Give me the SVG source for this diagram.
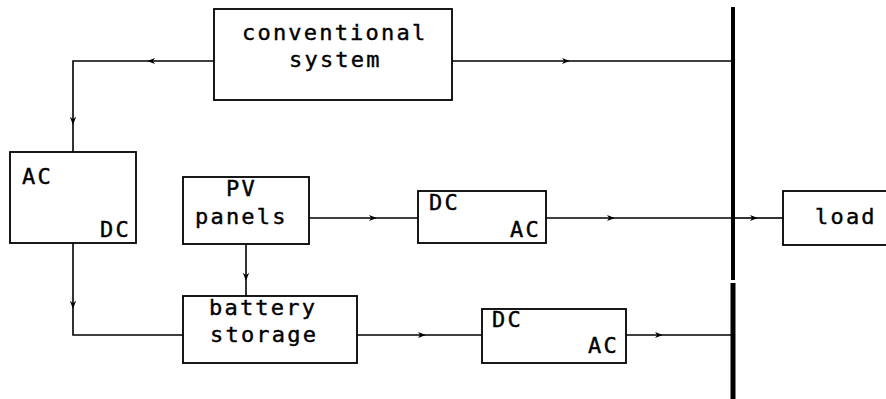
<svg xmlns="http://www.w3.org/2000/svg" width="886" height="399" viewBox="0 0 886 399">
<style>
.box{fill:#fff;stroke:#000;stroke-width:1.8}
.t{font-family:"DejaVu Sans Mono","Liberation Mono",monospace;font-size:22px;letter-spacing:2.2px;fill:#000;stroke:#000;stroke-width:0.4}
.c{fill:none;stroke:#000;stroke-width:1.6}
.bus{stroke:#000}
</style>
<defs>
<marker id="ah" viewBox="0 0 10 10" refX="9" refY="5" markerWidth="8" markerHeight="8" markerUnits="userSpaceOnUse" orient="auto">
<path d="M0,1 L10,5 L0,9 L3,5 Z" fill="#000"/>
</marker>
</defs>
<rect width="886" height="399" fill="#fff"/>
<g id="connectors">
<path class="c" d="M214 61 L148 61" marker-end="url(#ah)"/>
<path class="c" d="M148 61 L73 61 L73 124" marker-end="url(#ah)"/>
<path class="c" d="M73 124 L73 152"/>
<path class="c" d="M452 61 L569 61" marker-end="url(#ah)"/>
<path class="c" d="M569 61 L733 61"/>
<path class="c" d="M309 218 L376 218" marker-end="url(#ah)"/>
<path class="c" d="M376 218 L418 218"/>
<path class="c" d="M546 218 L614 218" marker-end="url(#ah)"/>
<path class="c" d="M614 218 L733 218"/>
<path class="c" d="M733 218 L757 218" marker-end="url(#ah)"/>
<path class="c" d="M757 218 L783 218"/>
<path class="c" d="M246 244 L246 280" marker-end="url(#ah)"/>
<path class="c" d="M246 280 L246 296"/>
<path class="c" d="M73 243 L73 308" marker-end="url(#ah)"/>
<path class="c" d="M73 308 L73 335 L183 335"/>
<path class="c" d="M357 335 L425 335" marker-end="url(#ah)"/>
<path class="c" d="M425 335 L482 335"/>
<path class="c" d="M626 335 L662 335" marker-end="url(#ah)"/>
<path class="c" d="M662 335 L733 335"/>
<line class="bus" x1="733" y1="7" x2="733" y2="280" style="stroke-width:4"/>
<line class="bus" x1="733" y1="283" x2="733" y2="399" style="stroke-width:5"/>
</g>
<g id="conventional">
<rect class="box" x="214" y="9" width="238" height="91"/>
<text class="t" x="242" y="40">conventional</text>
<text class="t" x="289" y="67">system</text>
</g>
<g id="acdc">
<rect class="box" x="10" y="152" width="126" height="91"/>
<text class="t" x="22" y="184">AC</text>
<text class="t" x="100" y="237">DC</text>
</g>
<g id="pv">
<rect class="box" x="183" y="177" width="126" height="67"/>
<text class="t" x="226" y="196">PV</text>
<text class="t" x="195" y="224">panels</text>
</g>
<g id="dcac1">
<rect class="box" x="418" y="191" width="128" height="52"/>
<text class="t" x="429" y="210">DC</text>
<text class="t" x="510" y="237">AC</text>
</g>
<g id="load">
<rect class="box" x="783" y="191" width="110" height="54"/>
<text class="t" x="815" y="224">load</text>
</g>
<g id="battery">
<rect class="box" x="183" y="296" width="174" height="67"/>
<text class="t" x="209" y="315">battery</text>
<text class="t" x="210" y="342">storage</text>
</g>
<g id="dcac2">
<rect class="box" x="482" y="309" width="144" height="54"/>
<text class="t" x="492" y="327">DC</text>
<text class="t" x="588" y="353">AC</text>
</g>
</svg>
